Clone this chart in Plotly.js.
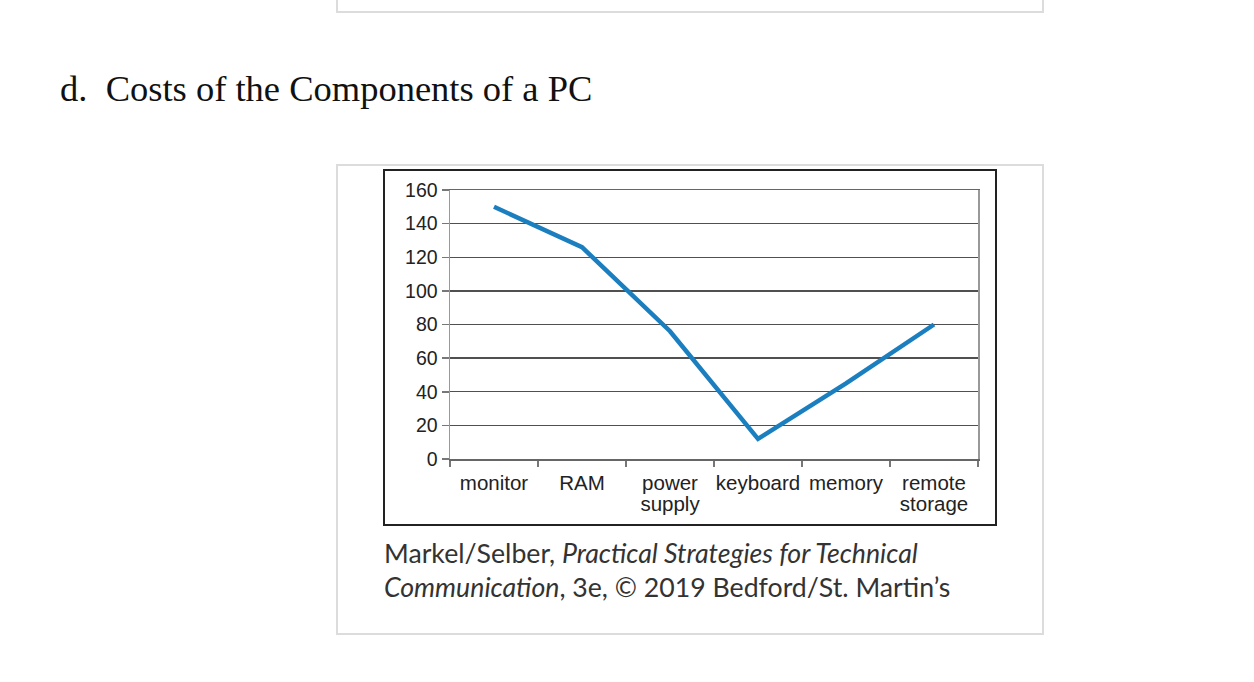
<!DOCTYPE html>
<html><head><meta charset="utf-8">
<script src="https://cdn.plot.ly/plotly-3.0.1.min.js"></script>
<style>html,body{margin:0;padding:0;background:#fff;}#chart{width:1254px;height:682px;}</style>
</head><body><div id="chart"></div>
<script>
const categories = ["monitor", "RAM", "power supply", "keyboard", "memory", "remote storage"];
const tickLines = [["monitor"], ["RAM"], ["power", "supply"], ["keyboard"], ["memory"], ["remote", "storage"]];
const costs = [150, 126, 76, 12, 45, 80];
const yTicks = [0, 20, 40, 60, 80, 100, 120, 140, 160];

const W = 1254, H = 682;
const px = x => x / W, py = y => 1 - y / H;
const tickText = tickLines.map(lines =>
  lines.map(s => `<span style="font-size:20.5px">${s}</span>`).join("<br>"));

const trace = {
  x: categories, y: costs, type: "scatter", mode: "lines",
  line: {color: "#1b7fbf", width: 4.5}, hoverinfo: "skip"
};

const layout = {
  width: W, height: H, margin: {l: 0, r: 0, t: 0, b: 0},
  paper_bgcolor: "#fff", plot_bgcolor: "#fff", showlegend: false,
  xaxis: {
    domain: [px(450), px(978)], type: "category", range: [-0.5, 5.5],
    tickmode: "array", tickvals: categories, ticktext: tickText,
    tickson: "boundaries", ticks: "outside", ticklen: 6, tickcolor: "#777", tickwidth: 1.5,
    showline: true, linecolor: "#666", linewidth: 1.5, mirror: true,
    showgrid: false, zeroline: false, ticklabelstandoff: 10, tickangle: 0,
    tickfont: {family: "Liberation Sans, Arial, sans-serif", size: 16, color: "#222"}
  },
  yaxis: {
    domain: [py(459), py(190)], range: [0, 160],
    tickmode: "array", tickvals: yTicks,
    ticks: "outside", ticklen: 7, tickcolor: "#777", tickwidth: 1.5,
    showline: true, linecolor: "#999", linewidth: 1.5, mirror: true,
    showgrid: true, gridcolor: "#505050", gridwidth: 1.3, zeroline: false,
    tickfont: {family: "Liberation Sans, Arial, sans-serif", size: 19.5, color: "#222"}
  },
  shapes: [
    {type: "path", xref: "paper", yref: "paper",
     path: `M ${px(337)} ${py(-5)} L ${px(337)} ${py(12)} L ${px(1043)} ${py(12)} L ${px(1043)} ${py(-5)}`,
     line: {color: "#dcdcdc", width: 2}},
    {type: "rect", xref: "paper", yref: "paper", x0: px(337), x1: px(1043), y0: py(165), y1: py(634),
     line: {color: "#dcdcdc", width: 2}},
    {type: "rect", xref: "paper", yref: "paper", x0: px(384), x1: px(996), y0: py(170), y1: py(525),
     line: {color: "#222", width: 2}}
  ],
  annotations: [
    {xref: "paper", yref: "paper", x: px(58), y: py(88), xanchor: "left", yanchor: "middle",
     text: "d.  Costs of the Components of a PC", showarrow: false,
     font: {family: "Liberation Serif, DejaVu Serif, serif", size: 36.5, color: "#111"}},
    {xref: "paper", yref: "paper", x: px(382), y: py(553), xanchor: "left", yanchor: "middle",
     text: "Markel/Selber, <i>Practical Strategies for Technical</i>", showarrow: false,
     font: {family: "Lato, Open Sans, sans-serif", size: 26.7, color: "#333"}},
    {xref: "paper", yref: "paper", x: px(382), y: py(587), xanchor: "left", yanchor: "middle",
     text: "<i>Communication</i>, 3e, © 2019 Bedford/St. Martin’s", showarrow: false,
     font: {family: "Lato, Open Sans, sans-serif", size: 26.7, color: "#333"}}
  ]
};

Plotly.newPlot("chart", [trace], layout, {displayModeBar: false, staticPlot: true});
</script></body></html>
